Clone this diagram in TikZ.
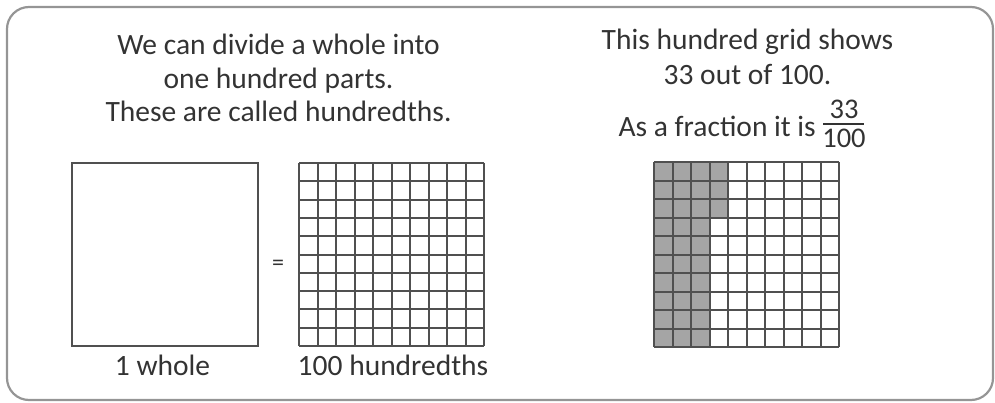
\documentclass[tikz,border=0pt]{standalone}
\usepackage{fontspec}
\setmainfont{Carlito}
\definecolor{txt}{HTML}{333333}
\definecolor{gline}{HTML}{505050}
\definecolor{frame}{HTML}{959595}
\definecolor{shade}{HTML}{A5A5A5}
\begin{document}
\begin{tikzpicture}[x=1pt,y=-1pt,
  lbl/.style={text=txt,font=\fontsize{29.5}{34}\selectfont,anchor=base,inner sep=0pt},
  fracnum/.style={text=txt,font=\fontsize{28.5}{30}\selectfont,anchor=base,inner sep=0pt},
  gridline/.style={draw=gline,line width=2pt},
  cellshade/.style={fill=shade}]
\useasboundingbox (0,0) rectangle (995,403);
\draw[frame,line width=2.2pt,rounded corners=22pt] (7,7) rectangle (993,400);
% left texts
\node[lbl] (t1) at (278.5,55) {We can divide a whole into};
\node[lbl] (t2) at (278.5,89) {one hundred parts.};
\node[lbl] (t3) at (278.5,122) {These are called hundredths.};
% right texts
\node[lbl] (r1) at (747.5,50) {This hundred grid shows};
\node[lbl] (r2) at (747.5,85) {33 out of 100.};
\node[lbl,anchor=base east] (r3) at (816,137) {As a fraction it is};
\node[fracnum] (num) at (844,119) {33};
\node[fracnum] (den) at (844,148) {100};
\draw[txt,line width=1.3pt] (823,124) -- (864,124);
% whole square
\node[draw=gline,line width=2pt,minimum width=186pt,minimum height=183pt,inner sep=0pt] (whole) at (165,254.5) {};
\node[text=txt,font=\fontsize{24}{26}\selectfont,inner sep=0pt] (eq) at (278,265) {=};
% hundred grid
\foreach \i in {0,...,10}{
  \draw[gridline] ({299+round(18.5*\i)},163) -- ({299+round(18.5*\i)},346);
  \draw[gridline] (299,{163+round(18.3*\i)}) -- (484,{163+round(18.3*\i)});
}
% shaded grid
\foreach \c in {0,1,2}{
  \fill[cellshade] ({654+round(18.5*\c)},162) rectangle ({654+round(18.5*\c+18.5)},347);
}
\fill[cellshade] (710,162) rectangle (728,218);
\foreach \i in {0,...,10}{
  \draw[gridline] ({654+round(18.5*\i)},162) -- ({654+round(18.5*\i)},347);
  \draw[gridline] (654,{162+round(18.5*\i)}) -- (839,{162+round(18.5*\i)});
}
\node[lbl] (w) at (162.5,375) {1 whole};
\node[lbl] (h) at (393,375) {100 hundredths};
\end{tikzpicture}
\end{document}
